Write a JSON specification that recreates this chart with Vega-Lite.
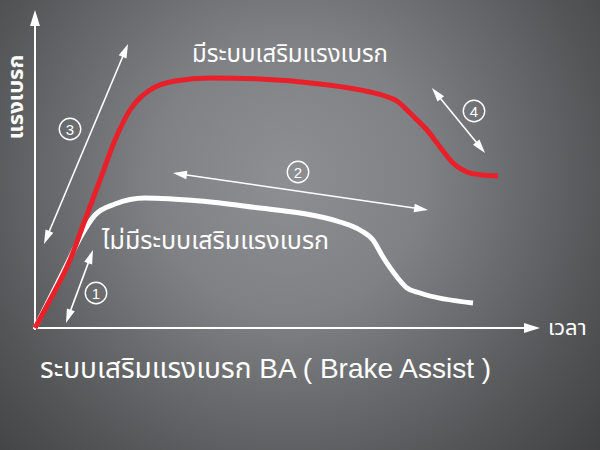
{
  "$schema": "https://vega.github.io/schema/vega-lite/v6.json",
  "width": 600,
  "height": 450,
  "autosize": {"type": "fit", "contains": "padding"},
  "padding": 0,
  "background": "#444446",
  "config": {"view": {"stroke": null}},
  "datasets": {
    "bg": [{"t0": -35, "t1": 565, "f0": -122, "f1": 328}],
    "curves": [
      {"series": "without", "t": 0, "f": 0},
      {"series": "without", "t": 15, "f": 30},
      {"series": "without", "t": 33, "f": 66},
      {"series": "without", "t": 45, "f": 90},
      {"series": "without", "t": 60, "f": 113},
      {"series": "without", "t": 80, "f": 124},
      {"series": "without", "t": 110, "f": 130},
      {"series": "without", "t": 165, "f": 127},
      {"series": "without", "t": 225, "f": 120},
      {"series": "without", "t": 265, "f": 115},
      {"series": "without", "t": 305, "f": 106},
      {"series": "without", "t": 325, "f": 98},
      {"series": "without", "t": 338, "f": 88},
      {"series": "without", "t": 348, "f": 71},
      {"series": "without", "t": 362, "f": 51},
      {"series": "without", "t": 372, "f": 40},
      {"series": "without", "t": 385, "f": 35},
      {"series": "without", "t": 438, "f": 25},
      {"series": "with", "t": 0, "f": 0},
      {"series": "with", "t": 15, "f": 28},
      {"series": "with", "t": 35, "f": 68},
      {"series": "with", "t": 50, "f": 108},
      {"series": "with", "t": 65, "f": 148},
      {"series": "with", "t": 80, "f": 188},
      {"series": "with", "t": 95, "f": 218},
      {"series": "with", "t": 115, "f": 238},
      {"series": "with", "t": 140, "f": 247},
      {"series": "with", "t": 175, "f": 250},
      {"series": "with", "t": 225, "f": 249},
      {"series": "with", "t": 285, "f": 244},
      {"series": "with", "t": 335, "f": 236},
      {"series": "with", "t": 350, "f": 232},
      {"series": "with", "t": 362, "f": 227},
      {"series": "with", "t": 372, "f": 218},
      {"series": "with", "t": 380, "f": 210},
      {"series": "with", "t": 392, "f": 198},
      {"series": "with", "t": 405, "f": 181},
      {"series": "with", "t": 418, "f": 165},
      {"series": "with", "t": 432, "f": 156},
      {"series": "with", "t": 447, "f": 153},
      {"series": "with", "t": 463, "f": 152}
    ],
    "axes": [
      {"name": "force", "t": 0, "f": -2, "t2": 0, "f2": 308},
      {"name": "time", "t": -2, "f": 0, "t2": 495, "f2": 0}
    ],
    "axisHeads": [
      {"name": "force", "t": 0, "f": 310, "angle": 0},
      {"name": "time", "t": 497, "f": 0, "angle": 90}
    ],
    "arrows": [
      {"id": "1", "t": 33.4, "f": 11.6, "t2": 55.6, "f2": 71.4},
      {"id": "2", "t": 144.9, "f": 154, "t2": 386.1, "f2": 119},
      {"id": "3", "t": 11.7, "f": 90.5, "t2": 90.3, "f2": 277.5},
      {"id": "4", "t": 401.4, "f": 234.6, "t2": 445.6, "f2": 180.4}
    ],
    "heads": [
      {"id": "1", "t": 55.6, "f": 71.4, "angle": 20.3},
      {"id": "1", "t": 33.4, "f": 11.6, "angle": 200.3},
      {"id": "2", "t": 386.1, "f": 119, "angle": 98.3},
      {"id": "2", "t": 144.9, "f": 154, "angle": 278.3},
      {"id": "3", "t": 90.3, "f": 277.5, "angle": 22.8},
      {"id": "3", "t": 11.7, "f": 90.5, "angle": 202.8},
      {"id": "4", "t": 445.6, "f": 180.4, "angle": 140.8},
      {"id": "4", "t": 401.4, "f": 234.6, "angle": 320.8}
    ],
    "markers": [
      {"num": "1", "t": 61, "f": 35},
      {"num": "2", "t": 263, "f": 156},
      {"num": "3", "t": 35, "f": 199},
      {"num": "4", "t": 439, "f": 217}
    ],
    "withLabel": [{"text": "มีระบบเสริมแรงเบรก", "t": 255, "f": 273}],
    "withoutLabel": [{"text": "ไม่มีระบบเสริมแรงเบรก", "t": 67, "f": 87}],
    "title": [{"text": "ระบบเสริมแรงเบรก BA ( Brake Assist )", "t": 5, "f": -42}],
    "xLabel": [{"text": "เวลา", "t": 513, "f": 0}],
    "yLabel": [{"text": "แรงเบรก", "t": -19, "f": 231}]
  },
  "layer": [
    {
      "data": {"name": "bg"},
      "mark": {
        "type": "rect",
        "color": {
          "gradient": "radial",
          "x1": 0.48, "y1": 0.42, "x2": 0.48, "y2": 0.42, "r1": 0, "r2": 0.75,
          "stops": [
            {"offset": 0, "color": "#8e8f92"},
            {"offset": 0.3, "color": "#808184"},
            {"offset": 0.7, "color": "#555658"},
            {"offset": 1, "color": "#3a3a3c"}
          ]
        }
      },
      "encoding": {
        "x": {"field": "t0", "type": "quantitative", "scale": {"domain": [-35, 565], "nice": false, "zero": false}, "axis": null},
        "x2": {"field": "t1"},
        "y": {"field": "f0", "type": "quantitative", "scale": {"domain": [-122, 328], "nice": false, "zero": false}, "axis": null},
        "y2": {"field": "f1"}
      }
    },
    {
      "data": {"name": "axes"},
      "mark": {"type": "rule", "color": "white", "strokeWidth": 2},
      "encoding": {
        "x": {"field": "t", "type": "quantitative"},
        "y": {"field": "f", "type": "quantitative"},
        "x2": {"field": "t2"},
        "y2": {"field": "f2"}
      }
    },
    {
      "data": {"name": "axisHeads"},
      "mark": {"type": "point", "shape": "M0,-1L0.62,1L-0.62,1Z", "filled": true, "color": "white", "opacity": 1, "size": 256},
      "encoding": {
        "x": {"field": "t", "type": "quantitative"},
        "y": {"field": "f", "type": "quantitative"},
        "angle": {"field": "angle", "type": "quantitative", "scale": null}
      }
    },
    {
      "data": {"name": "arrows"},
      "mark": {"type": "rule", "color": "white", "strokeWidth": 1.6},
      "encoding": {
        "x": {"field": "t", "type": "quantitative"},
        "y": {"field": "f", "type": "quantitative"},
        "x2": {"field": "t2"},
        "y2": {"field": "f2"}
      }
    },
    {
      "data": {"name": "heads"},
      "mark": {"type": "point", "shape": "M0,-1L0.6,1L-0.6,1Z", "filled": true, "color": "white", "opacity": 1, "size": 196},
      "encoding": {
        "x": {"field": "t", "type": "quantitative"},
        "y": {"field": "f", "type": "quantitative"},
        "angle": {"field": "angle", "type": "quantitative", "scale": null}
      }
    },
    {
      "data": {"name": "markers"},
      "mark": {"type": "point", "shape": "circle", "filled": false, "color": "white", "opacity": 1, "strokeWidth": 1.4, "size": 460},
      "encoding": {
        "x": {"field": "t", "type": "quantitative"},
        "y": {"field": "f", "type": "quantitative"}
      }
    },
    {
      "data": {"name": "markers"},
      "mark": {"type": "text", "color": "white", "fontSize": 15, "font": "Liberation Sans", "align": "center", "baseline": "middle", "dy": 1},
      "encoding": {
        "x": {"field": "t", "type": "quantitative"},
        "y": {"field": "f", "type": "quantitative"},
        "text": {"field": "num"}
      }
    },
    {
      "data": {"name": "curves"},
      "transform": [{"filter": "datum.series === 'without'"}],
      "mark": {"type": "line", "color": "white", "strokeWidth": 5, "interpolate": "monotone", "strokeCap": "butt"},
      "encoding": {
        "x": {"field": "t", "type": "quantitative"},
        "y": {"field": "f", "type": "quantitative"}
      }
    },
    {
      "data": {"name": "curves"},
      "transform": [{"filter": "datum.series === 'with'"}],
      "mark": {"type": "line", "color": "#e8202a", "strokeWidth": 5, "interpolate": "monotone", "strokeCap": "butt"},
      "encoding": {
        "x": {"field": "t", "type": "quantitative"},
        "y": {"field": "f", "type": "quantitative"}
      }
    },
    {
      "data": {"name": "withLabel"},
      "mark": {"type": "text", "color": "white", "fontSize": 24, "font": "Noto Sans Thai, Noto Sans, DejaVu Sans, sans-serif", "align": "center", "baseline": "middle"},
      "encoding": {
        "x": {"field": "t", "type": "quantitative"},
        "y": {"field": "f", "type": "quantitative"},
        "text": {"field": "text"}
      }
    },
    {
      "data": {"name": "withoutLabel"},
      "mark": {"type": "text", "color": "white", "fontSize": 25, "font": "Noto Sans Thai, Noto Sans, DejaVu Sans, sans-serif", "align": "left", "baseline": "middle"},
      "encoding": {
        "x": {"field": "t", "type": "quantitative"},
        "y": {"field": "f", "type": "quantitative"},
        "text": {"field": "text"}
      }
    },
    {
      "data": {"name": "title"},
      "mark": {"type": "text", "color": "white", "fontSize": 28, "font": "Liberation Sans, Noto Sans Thai, sans-serif", "align": "left", "baseline": "middle"},
      "encoding": {
        "x": {"field": "t", "type": "quantitative"},
        "y": {"field": "f", "type": "quantitative"},
        "text": {"field": "text"}
      }
    },
    {
      "data": {"name": "xLabel"},
      "mark": {"type": "text", "color": "white", "fontSize": 22, "font": "Noto Sans Thai, Noto Sans, DejaVu Sans, sans-serif", "align": "left", "baseline": "middle"},
      "encoding": {
        "x": {"field": "t", "type": "quantitative"},
        "y": {"field": "f", "type": "quantitative"},
        "text": {"field": "text"}
      }
    },
    {
      "data": {"name": "yLabel"},
      "mark": {"type": "text", "color": "white", "fontSize": 22, "fontWeight": "bold", "font": "Noto Sans Thai, Noto Sans, DejaVu Sans, sans-serif", "align": "center", "baseline": "middle", "angle": 270},
      "encoding": {
        "x": {"field": "t", "type": "quantitative"},
        "y": {"field": "f", "type": "quantitative"},
        "text": {"field": "text"}
      }
    }
  ]
}
